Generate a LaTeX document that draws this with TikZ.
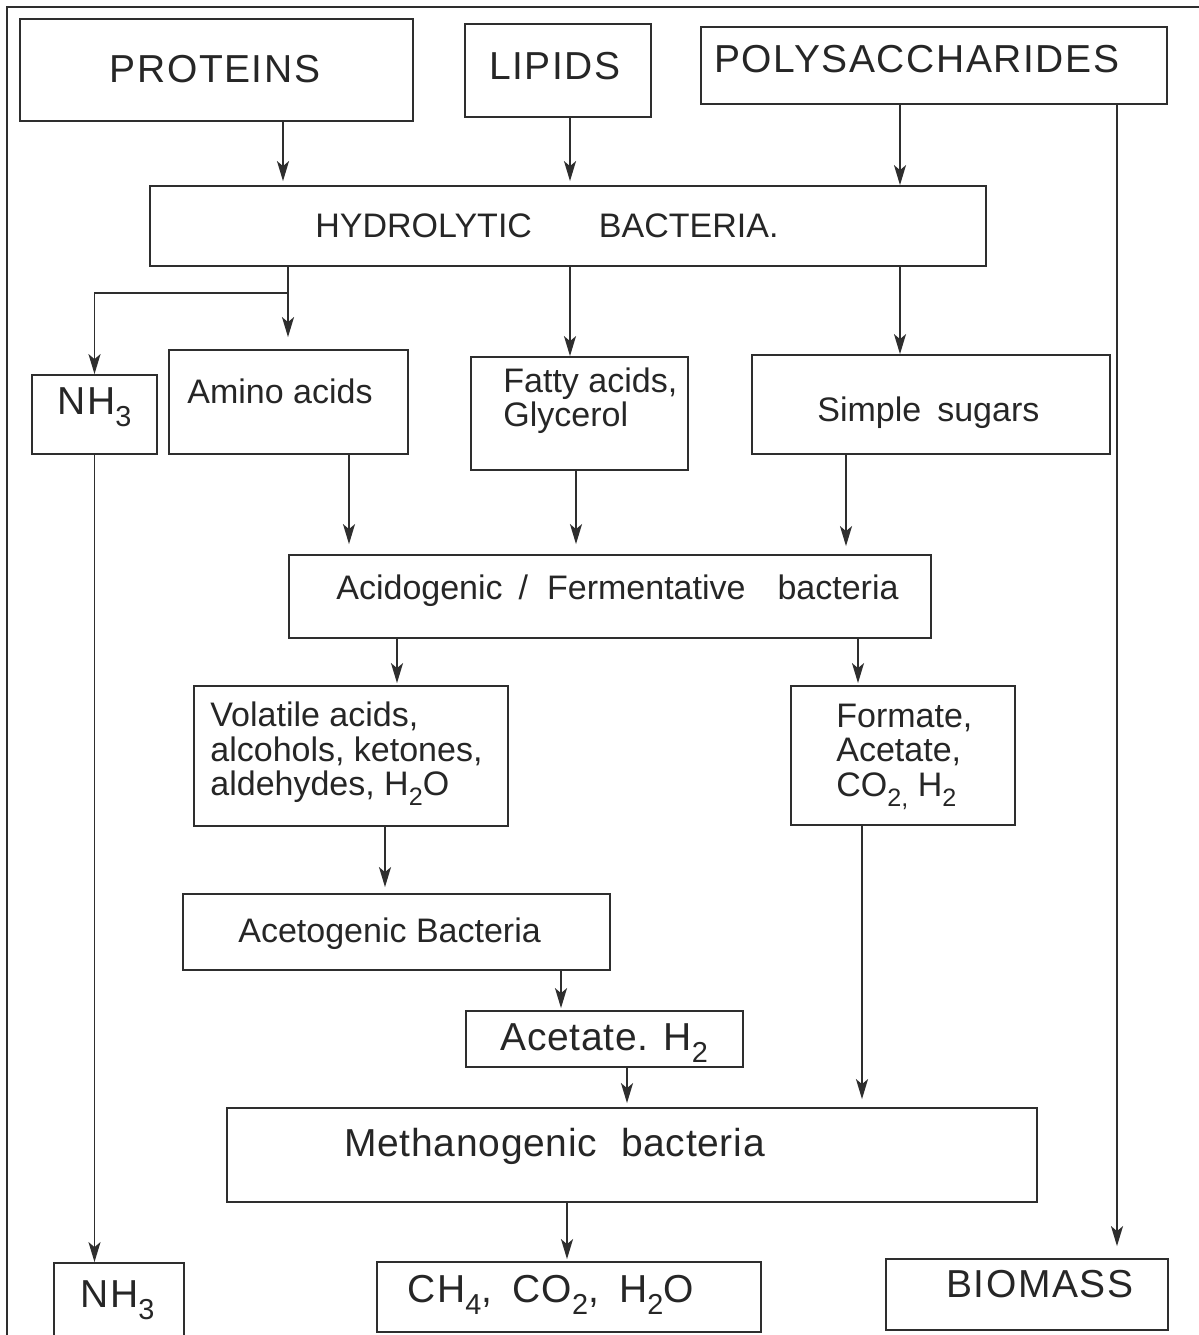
\documentclass[tikz,border=0pt]{standalone}
\usepackage{fontspec}
\setmainfont{Liberation Sans}
\usetikzlibrary{arrows.meta,fit}
\definecolor{lc}{HTML}{2E2E2E}
\definecolor{tc}{HTML}{262626}
\newcommand\lo[1]{\raisebox{-0.6ex}{\scalebox{0.74}{#1}}}
\newcommand\bigf{\fontsize{19.5pt}{22pt}\selectfont\addfontfeature{LetterSpace=4}}
\newcommand\bigfnarrow{\fontsize{19.5pt}{22pt}\selectfont\addfontfeature{LetterSpace=1.8}}
\newcommand\midf{\fontsize{17pt}{20pt}\selectfont}
\begin{document}
\begin{tikzpicture}[x=0.5pt,y=-0.5pt,
  box/.style={draw=lc, line width=0.9pt, inner sep=0pt},
  ln/.style={draw=lc, line width=0.9pt},
  arr/.style={draw=lc, line width=0.9pt, -{Stealth[length=10pt,width=6pt,inset=2.5pt]}},
  tb/.style={text=tc, font=\bigf, inner sep=0pt, anchor=base west},
  tm/.style={text=tc, font=\midf, inner sep=0pt, anchor=base west}]
\useasboundingbox (0,0) rectangle (1199,1335);
% frame (top and left edges)
\draw[ln] (7,1335) -- (7,7) -- (1199,7);
% boxes
\node[box, fit={(20,19)(413,121)}] (prot) {};
\node[box, fit={(465,24)(651,117)}] (lip) {};
\node[box, fit={(701,27)(1167,104)}] (poly) {};
\node[box, fit={(150,186)(986,266)}] (hyd) {};
\node[box, fit={(32,375)(157,454)}] (nha) {};
\node[box, fit={(169,350)(408,454)}] (amino) {};
\node[box, fit={(471,357)(688,470)}] (fatty) {};
\node[box, fit={(752,355)(1110,454)}] (sugar) {};
\node[box, fit={(289,555)(931,638)}] (acido) {};
\node[box, fit={(194,686)(508,826)}] (vol) {};
\node[box, fit={(791,686)(1015,825)}] (form) {};
\node[box, fit={(183,894)(610,970)}] (aceto) {};
\node[box, fit={(466,1011)(743,1067)}] (acet) {};
\node[box, fit={(227,1108)(1037,1202)}] (meth) {};
\node[box, fit={(54,1263)(184,1345)}] (nhb) {};
\node[box, fit={(377,1262)(761,1332)}] (ch) {};
\node[box, fit={(886,1259)(1168,1330)}] (bio) {};
% texts
\node[tb, anchor=base] at (215,82) {PROTEINS};
\node[tb, anchor=base] at (555,79) {LIPIDS};
\node[tb] at (714,72) {POLYSACCHARIDES};
\node[tm] at (315,237) {HYDROLYTIC\hspace{33.5pt}BACTERIA.};
\node[tb] at (57,414) {NH\lo{3}};
\node[tm] at (187,403) {Amino acids};
\node[tm] at (503,392) {Fatty acids,};
\node[tm] at (503,426) {Glycerol};
\node[tm] at (817,421) {Simple\hspace{8pt}sugars};
\node[tm] at (336,599) {Acidogenic\hspace{8pt}/\hspace{9.5pt}Fermentative\hspace{16pt}bacteria};
\node[tm] at (210,726) {Volatile acids,};
\node[tm] at (210,761) {alcohols, ketones,};
\node[tm] at (210,795) {aldehydes, H\lo{2}O};
\node[tm] at (836,727) {Formate,};
\node[tm] at (836,761) {Acetate,};
\node[tm] at (836,796) {CO\lo{2,} H\lo{2}};
\node[tm] at (238,942) {Acetogenic Bacteria};
\node[tb, font=\bigfnarrow] at (500,1050) {Acetate. H\lo{2}};
\node[tb, font=\bigfnarrow] at (344,1156) {Methanogenic\hspace{12pt}bacteria};
\node[tb] at (80,1307) {NH\lo{3}};
\node[tb] at (407,1302) {CH\lo{4},\hspace{10pt}CO\lo{2},\hspace{10pt}H\lo{2}O};
\node[tb] at (946,1297) {BIOMASS};
% x positions of connectors
\coordinate (xa) at (283,0);
\coordinate (xb) at (570,0);
\coordinate (xc) at (900,0);
\coordinate (xd) at (1117,0);
\coordinate (br) at (288,293);
\coordinate (xe) at (349,0);
\coordinate (xf) at (576,0);
\coordinate (xg) at (846,0);
\coordinate (xh) at (397,0);
\coordinate (xi) at (858,0);
\coordinate (xj) at (862,0);
\coordinate (xk) at (385,0);
\coordinate (xl) at (561,0);
\coordinate (xm) at (627,0);
\coordinate (xn) at (567,0);
% connectors
\draw[arr, shorten >=2pt] (prot.south -| xa) -- (hyd.north -| xa);
\draw[arr, shorten >=2pt] (lip.south -| xb) -- (hyd.north -| xb);
\draw[arr] (poly.south -| xc) -- (hyd.north -| xc);
\draw[arr, shorten >=6pt] (poly.south -| xd) -- (bio.north -| xd);
\draw[ln] (hyd.south -| br) -- (br);
\draw[arr] (br) -| (nha.north);
\draw[arr, shorten >=6pt] (br) -- (amino.north -| br);
\draw[arr] (hyd.south -| xb) -- (fatty.north -| xb);
\draw[arr] (hyd.south -| xc) -- (sugar.north -| xc);
\draw[arr] (nha.south) -- (nhb.north -| nha.south);
\draw[arr, shorten >=5pt] (amino.south -| xe) -- (acido.north -| xe);
\draw[arr, shorten >=5pt] (fatty.south -| xf) -- (acido.north -| xf);
\draw[arr, shorten >=4pt] (sugar.south -| xg) -- (acido.north -| xg);
\draw[arr, shorten >=1pt] (acido.south -| xh) -- (vol.north -| xh);
\draw[arr, shorten >=1pt] (acido.south -| xi) -- (form.north -| xi);
\draw[arr, shorten >=3pt] (vol.south -| xk) -- (aceto.north -| xk);
\draw[arr, shorten >=1pt] (aceto.south -| xl) -- (acet.north -| xl);
\draw[arr, shorten >=2pt] (acet.south -| xm) -- (meth.north -| xm);
\draw[arr, shorten >=4pt] (form.south -| xj) -- (meth.north -| xj);
\draw[arr, shorten >=1pt] (meth.south -| xn) -- (ch.north -| xn);
\end{tikzpicture}
\end{document}
